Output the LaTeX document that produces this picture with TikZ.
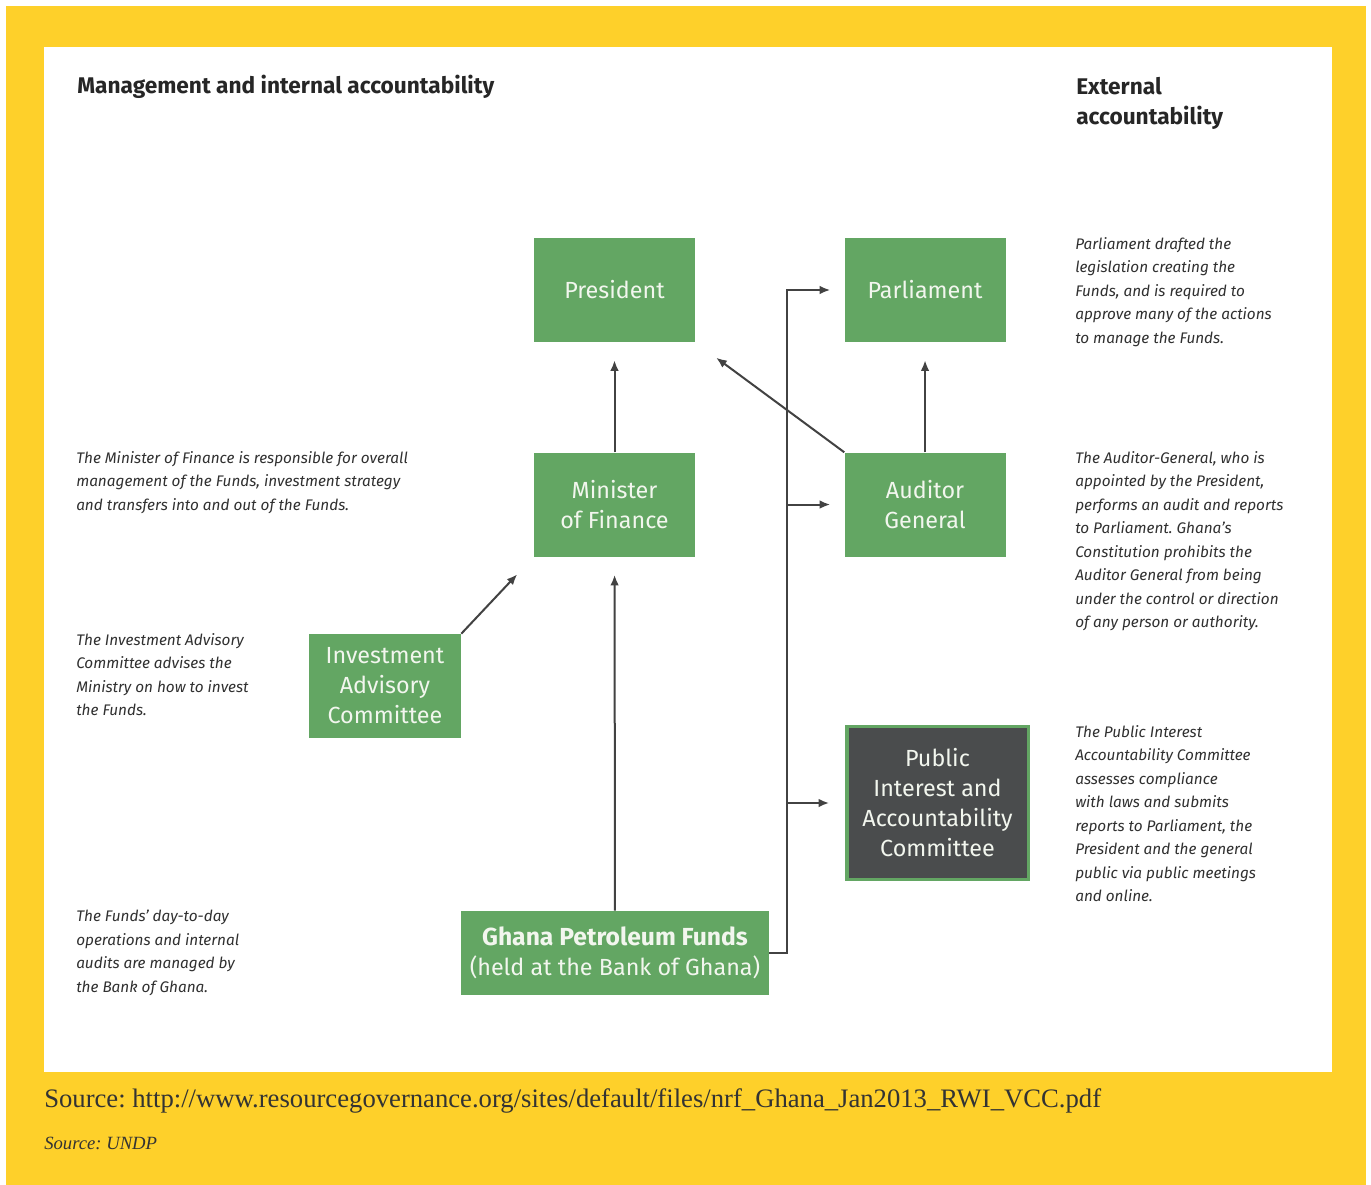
\documentclass[tikz,border=0pt]{standalone}
\usepackage{fontspec}
\setmainfont{Fira Sans}
\newfontfamily\sourcefont{Liberation Serif}
\usepackage{xcolor}
\usetikzlibrary{arrows.meta, positioning}

\definecolor{pageyellow}{RGB}{254,208,42}
\definecolor{boxgreen}{RGB}{99,166,99}
\definecolor{boxdark}{RGB}{74,76,77}
\definecolor{boxtext}{RGB}{242,246,238}
\definecolor{linegray}{RGB}{66,66,66}
\definecolor{notegray}{RGB}{48,48,48}

\begin{document}
\frenchspacing
\begin{tikzpicture}[
      x=0.75pt, y=-0.75pt,
      node distance=82.5pt and 111.75pt,
      fundbox/.style={fill=boxgreen, text=boxtext, minimum width=120.75pt, minimum height=78pt, align=center, inner sep=2pt, font=\fontsize{17.5}{22.5}\selectfont},
      note/.style={anchor=north west, align=left, inner sep=0pt, text=notegray, font=\fontsize{11.5}{17.6}\selectfont\itshape},
      head/.style={anchor=north west, align=left, inner sep=0pt, text=black!85, font=\fontsize{17}{22.5}\selectfont\bfseries},
      arr/.style={draw=linegray, line width=1.5pt, -{Latex[length=8pt,width=6.5pt]}}
    ]
    % page and panel
    \fill[white] (0,0) rectangle (1371,1185);
    \fill[pageyellow] (6,6) rectangle (1366,1185);
    \fill[white] (44,47) rectangle (1332,1072);
    \useasboundingbox (0,0) rectangle (1371,1185);

    % boxes
    \node[fundbox] (pres) at (614.5,290) {President};
    \node[fundbox, below=of pres] (min) {Minister\\of Finance};
    \node[fundbox, right=of pres] (parl) {Parliament};
    \node[fundbox, below=of parl] (aud) {Auditor\\General};
    \node[fundbox, minimum width=114pt] (inv) at (385,686) {Investment\\Advisory\\Committee};
    \node[fundbox, fill=boxdark, draw=boxgreen, line width=2.5pt, minimum width=136pt, minimum height=115pt] (piac) at (937.5,803) {Public\\Interest and\\Accountability\\Committee};
    \node[fundbox, minimum width=231pt, minimum height=63pt] (funds) at (615,953) {{\fontsize{18.5}{22.5}\selectfont\bfseries Ghana Petroleum Funds}\\(held at the Bank of Ghana)};

    % arrows
    \draw[arr, shorten >=13.5pt] (min) -- (pres);
    \draw[arr, shorten >=13.5pt] (aud) -- (parl);
    \draw[arr, shorten >=19.5pt] (aud.north west) -- (pres.south east);
    \draw[arr, shorten >=18pt] (inv.north east) -- (min.south west);
    \draw[arr, shorten >=13.5pt] (funds) -- (min);
    \coordinate (bus) at (787,290);
    \draw[arr, shorten >=10.5pt] (funds.east) -| (bus) -- (parl.west);
    \draw[arr, shorten >=10.5pt] (bus |- aud.west) -- (aud.west);
    \draw[arr, shorten >=12pt] (bus |- piac.west) -- (piac.west);

    % headings
    \node[head] (mgmt) at (77,75) {Management and internal accountability};
    \node[head] (ext) at (1076,77) {External\\accountability};

    % notes
    \node[note] (minnote) at (76,451) {The Minister of Finance is responsible for overall\\management of the Funds, investment strategy\\and transfers into and out of the Funds.};
    \node[note] (invnote) at (76,633) {The Investment Advisory\\Committee advises the\\Ministry on how to invest\\the Funds.};
    \node[note] (fundnote) at (76,910) {The Funds' day-to-day\\operations and internal\\audits are managed by\\the Bank of Ghana.};
    \node[note] (parlnote) at (1075,237) {Parliament drafted the\\legislation creating the\\Funds, and is required to\\approve many of the actions\\to manage the Funds.};
    \node[note] (audnote) at (1075,451) {The Auditor-General, who is\\appointed by the President,\\performs an audit and reports\\to Parliament. Ghana's\\Constitution prohibits the\\Auditor General from being\\under the control or direction\\of any person or authority.};
    \node[note] (piacnote) at (1075,725) {The Public Interest\\Accountability Committee\\assesses compliance\\with laws and submits\\reports to Parliament, the\\President and the general\\public via public meetings\\and online.};

    % sources
    \node[anchor=west, inner sep=0pt, text=black!80, font=\sourcefont\fontsize{20}{24}\selectfont] (src) at (44,1101) {Source: http://www.resourcegovernance.org/sites/default/files/nrf\_Ghana\_Jan2013\_RWI\_VCC.pdf};
    \node[anchor=west, inner sep=0pt, text=black!80, font=\sourcefont\fontsize{14}{17}\selectfont\itshape] (undp) at (44,1143) {Source: UNDP};
  \end{tikzpicture}
\end{document}
